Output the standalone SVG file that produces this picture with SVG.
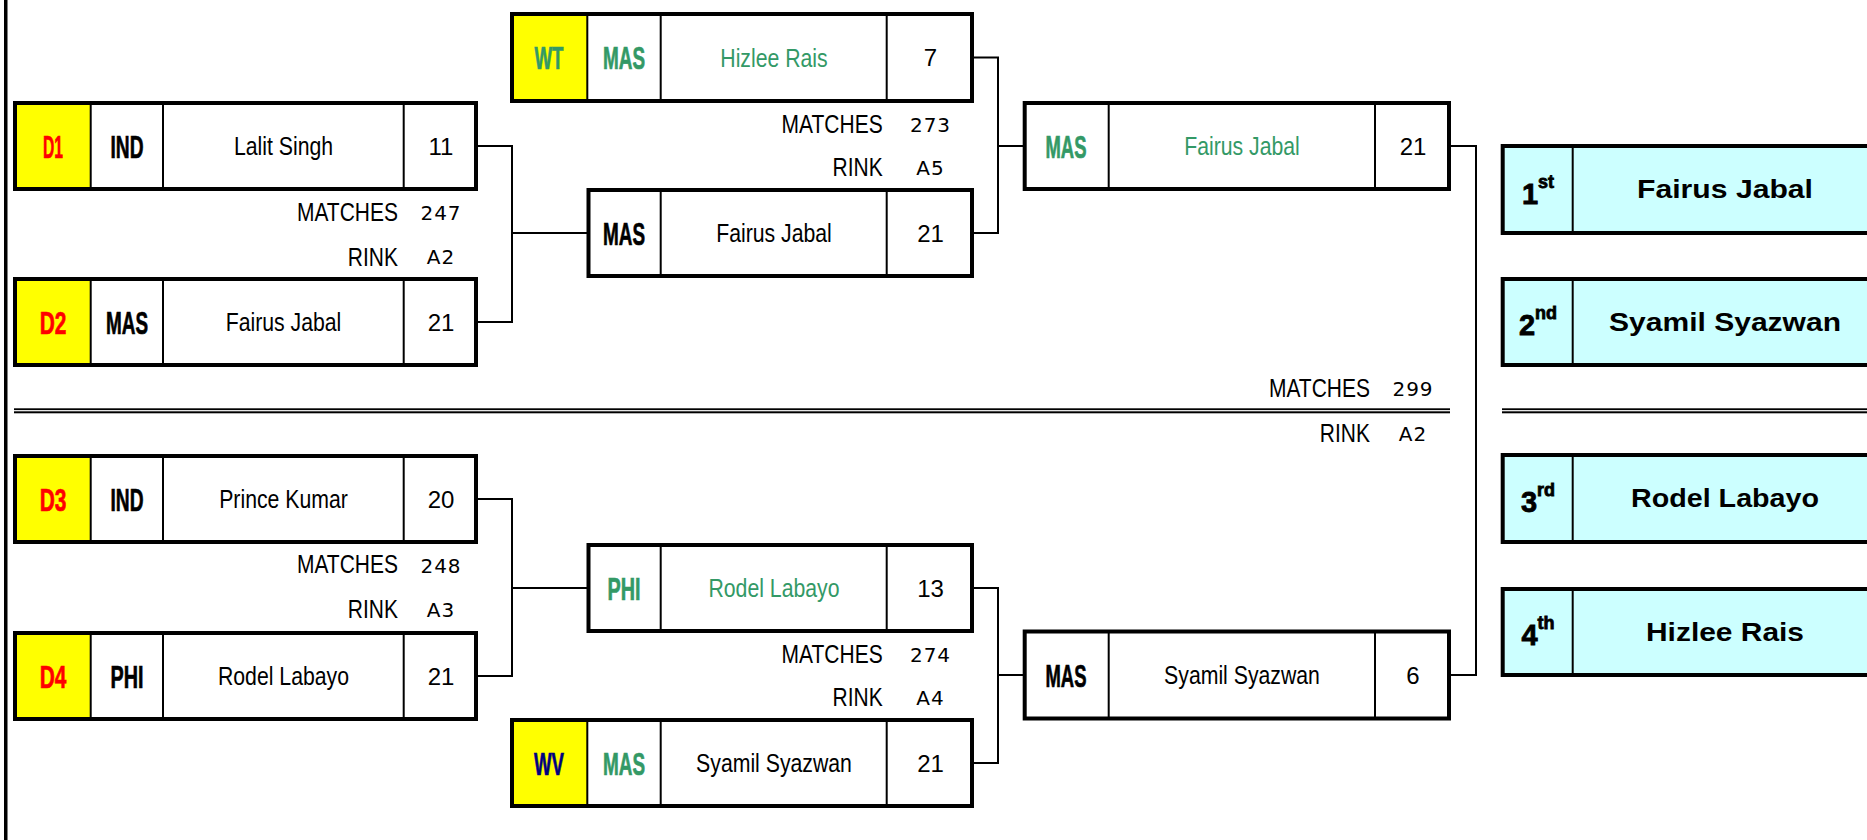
<svg xmlns="http://www.w3.org/2000/svg" width="1867" height="840" viewBox="0 0 1867 840">
<style>
.bx{fill:#fff;stroke:#000;stroke-width:4}
.fb{fill:#ccffff;stroke:#000;stroke-width:4}
.y{fill:#ffff00}
.dv{stroke:#000;stroke-width:2}
.cn{fill:none;stroke:#000;stroke-width:2}
text{font-family:"Liberation Sans",Arial,sans-serif;fill:#000}
.code{font-weight:bold;font-size:32px;text-anchor:middle;stroke:#000;stroke-width:0.7}
.nm{font-size:25px;text-anchor:middle}
.sc{font-size:24px;text-anchor:middle}
.lbl{font-size:25px;text-anchor:end}
.num{font-family:"DejaVu Sans",sans-serif;font-size:20px;text-anchor:middle;letter-spacing:1px}
.fn{font-weight:bold;font-size:25px;text-anchor:middle}
.ord{font-weight:bold;font-size:29px;text-anchor:middle;stroke:#000;stroke-width:0.8}
.g{fill:#339966}
.r{fill:#ff0000}
.nv{fill:#000080}
.code.g{stroke:#339966}
.code.r{stroke:#ff0000}
.code.nv{stroke:#000080}
</style>
<rect x="4" y="0" width="3.5" height="840" fill="#000"/>
<g id="divider">
<rect x="14" y="408.3" width="1436" height="1.8" fill="#000"/>
<rect x="14" y="411.3" width="1436" height="2" fill="#000"/>
<rect x="1502" y="408.3" width="365" height="1.8" fill="#000"/>
<rect x="1502" y="411.3" width="365" height="2" fill="#000"/>
</g>
<g id="connectors">
<path class="cn" d="M478,146 H512 V322 H478 M512,233 H588"/>
<path class="cn" d="M478,499 H512 V676 H478 M512,588 H588"/>
<path class="cn" d="M974,57.5 H998 V233 H974 M998,146 H1024"/>
<path class="cn" d="M974,588 H998 V763 H974 M998,675 H1024"/>
<path class="cn" d="M1451,146 H1476 V675 H1451"/>
</g>
<g id="d1">
<rect class="bx" x="15" y="103" width="461" height="86"/>
<rect class="y" x="17" y="105" width="73.7" height="82"/>
<path class="dv" d="M90.7,103 V189 M163,103 V189 M403.7,103 V189"/>
<text class="code r" x="53" y="157.5" textLength="20" lengthAdjust="spacingAndGlyphs">D1</text>
<text class="code" x="127" y="157.5" textLength="33" lengthAdjust="spacingAndGlyphs">IND</text>
<text class="nm" transform="translate(283.5 155) scale(0.85 1)">Lalit Singh</text>
<text class="sc" x="441" y="154.5">11</text>
</g>
<g id="d2">
<rect class="bx" x="15" y="279" width="461" height="86"/>
<rect class="y" x="17" y="281" width="73.7" height="82"/>
<path class="dv" d="M90.7,279 V365 M163,279 V365 M403.7,279 V365"/>
<text class="code r" x="53" y="333.5" textLength="26.7" lengthAdjust="spacingAndGlyphs">D2</text>
<text class="code" x="127" y="333.5" textLength="42" lengthAdjust="spacingAndGlyphs">MAS</text>
<text class="nm" transform="translate(283.5 331) scale(0.85 1)">Fairus Jabal</text>
<text class="sc" x="441" y="330.5">21</text>
</g>
<g id="m247">
<text class="lbl" transform="translate(398 221) scale(0.84 1)">MATCHES</text>
<text class="num" x="441" y="220">247</text>
<text class="lbl" transform="translate(398 265.5) scale(0.84 1)">RINK</text>
<text class="num" x="441" y="264">A2</text>
</g>
<g id="d3">
<rect class="bx" x="15" y="456" width="461" height="86"/>
<rect class="y" x="17" y="458" width="73.7" height="82"/>
<path class="dv" d="M90.7,456 V542 M163,456 V542 M403.7,456 V542"/>
<text class="code r" x="53" y="510.5" textLength="26.7" lengthAdjust="spacingAndGlyphs">D3</text>
<text class="code" x="127" y="510.5" textLength="33" lengthAdjust="spacingAndGlyphs">IND</text>
<text class="nm" transform="translate(283.5 508) scale(0.85 1)">Prince Kumar</text>
<text class="sc" x="441" y="507.5">20</text>
</g>
<g id="d4">
<rect class="bx" x="15" y="633" width="461" height="86"/>
<rect class="y" x="17" y="635" width="73.7" height="82"/>
<path class="dv" d="M90.7,633 V719 M163,633 V719 M403.7,633 V719"/>
<text class="code r" x="53" y="687.5" textLength="26.7" lengthAdjust="spacingAndGlyphs">D4</text>
<text class="code" x="127" y="687.5" textLength="33" lengthAdjust="spacingAndGlyphs">PHI</text>
<text class="nm" transform="translate(283.5 685) scale(0.85 1)">Rodel Labayo</text>
<text class="sc" x="441" y="684.5">21</text>
</g>
<g id="m248">
<text class="lbl" transform="translate(398 573.3) scale(0.84 1)">MATCHES</text>
<text class="num" x="441" y="572.5">248</text>
<text class="lbl" transform="translate(398 617.7) scale(0.84 1)">RINK</text>
<text class="num" x="441" y="616.5">A3</text>
</g>
<g id="wt">
<rect class="bx" x="512" y="14" width="460" height="87"/>
<rect class="y" x="514" y="16" width="73.3" height="83"/>
<path class="dv" d="M587.3,14 V101 M660.7,14 V101 M886.7,14 V101"/>
<text class="code g" x="549" y="69" textLength="29" lengthAdjust="spacingAndGlyphs">WT</text>
<text class="code g" x="624" y="69" textLength="42" lengthAdjust="spacingAndGlyphs">MAS</text>
<text class="nm g" transform="translate(774 66.5) scale(0.85 1)">Hizlee Rais</text>
<text class="sc" x="930.5" y="66">7</text>
</g>
<g id="m273">
<text class="lbl" transform="translate(882.7 132.7) scale(0.84 1)">MATCHES</text>
<text class="num" x="930.5" y="132">273</text>
<text class="lbl" transform="translate(882.7 176) scale(0.84 1)">RINK</text>
<text class="num" x="930.5" y="175">A5</text>
</g>
<g id="r2a">
<rect class="bx" x="588.5" y="190" width="383.5" height="86"/>
<path class="dv" d="M660.7,190 V276 M886.7,190 V276"/>
<text class="code" x="624" y="244.5" textLength="42" lengthAdjust="spacingAndGlyphs">MAS</text>
<text class="nm" transform="translate(774 242) scale(0.85 1)">Fairus Jabal</text>
<text class="sc" x="930.5" y="241.5">21</text>
</g>
<g id="r2b">
<rect class="bx" x="588.5" y="545" width="383.5" height="86"/>
<path class="dv" d="M660.7,545 V631 M886.7,545 V631"/>
<text class="code g" x="624" y="599.5" textLength="33" lengthAdjust="spacingAndGlyphs">PHI</text>
<text class="nm g" transform="translate(774 597) scale(0.85 1)">Rodel Labayo</text>
<text class="sc" x="930.5" y="596.5">13</text>
</g>
<g id="m274">
<text class="lbl" transform="translate(882.7 662.7) scale(0.84 1)">MATCHES</text>
<text class="num" x="930.5" y="662">274</text>
<text class="lbl" transform="translate(882.7 706) scale(0.84 1)">RINK</text>
<text class="num" x="930.5" y="705">A4</text>
</g>
<g id="wv">
<rect class="bx" x="512" y="720" width="460" height="86"/>
<rect class="y" x="514" y="722" width="73.3" height="82"/>
<path class="dv" d="M587.3,720 V806 M660.7,720 V806 M886.7,720 V806"/>
<text class="code nv" x="549" y="774.5" textLength="30" lengthAdjust="spacingAndGlyphs">WV</text>
<text class="code g" x="624" y="774.5" textLength="42" lengthAdjust="spacingAndGlyphs">MAS</text>
<text class="nm" transform="translate(774 772) scale(0.85 1)">Syamil Syazwan</text>
<text class="sc" x="930.5" y="771.5">21</text>
</g>
<g id="r3a">
<rect class="bx" x="1024.7" y="103" width="424.3" height="86"/>
<path class="dv" d="M1108.7,103 V189 M1375,103 V189"/>
<text class="code g" x="1066" y="157.5" textLength="41" lengthAdjust="spacingAndGlyphs">MAS</text>
<text class="nm g" transform="translate(1242 155) scale(0.85 1)">Fairus Jabal</text>
<text class="sc" x="1413" y="154.5">21</text>
</g>
<g id="r3b">
<rect class="bx" x="1024.7" y="631.5" width="424.3" height="87"/>
<path class="dv" d="M1108.7,631.5 V718.5 M1375,631.5 V718.5"/>
<text class="code" x="1066" y="686.5" textLength="41" lengthAdjust="spacingAndGlyphs">MAS</text>
<text class="nm" transform="translate(1242 684) scale(0.85 1)">Syamil Syazwan</text>
<text class="sc" x="1413" y="683.5">6</text>
</g>
<g id="m299">
<text class="lbl" transform="translate(1370 396.7) scale(0.84 1)">MATCHES</text>
<text class="num" x="1413" y="396">299</text>
<text class="lbl" transform="translate(1370 441.7) scale(0.84 1)">RINK</text>
<text class="num" x="1413" y="440.5">A2</text>
</g>
<g id="p1">
<rect class="fb" x="1502.7" y="146" width="400" height="87"/>
<path class="dv" d="M1572.7,146 V233"/>
<text class="ord" x="1538" y="204">1<tspan font-size="18" dy="-16">st</tspan></text>
<text class="fn" x="1725" y="198" textLength="176" lengthAdjust="spacingAndGlyphs">Fairus Jabal</text>
</g>
<g id="p2">
<rect class="fb" x="1502.7" y="279" width="400" height="86"/>
<path class="dv" d="M1572.7,279 V365"/>
<text class="ord" x="1538" y="335">2<tspan font-size="18" dy="-16">nd</tspan></text>
<text class="fn" x="1725" y="331" textLength="232" lengthAdjust="spacingAndGlyphs">Syamil Syazwan</text>
</g>
<g id="p3">
<rect class="fb" x="1502.7" y="455" width="400" height="87"/>
<path class="dv" d="M1572.7,455 V542"/>
<text class="ord" x="1538" y="512">3<tspan font-size="18" dy="-16">rd</tspan></text>
<text class="fn" x="1725" y="507" textLength="188" lengthAdjust="spacingAndGlyphs">Rodel Labayo</text>
</g>
<g id="p4">
<rect class="fb" x="1502.7" y="589" width="400" height="86"/>
<path class="dv" d="M1572.7,589 V675"/>
<text class="ord" x="1538" y="645">4<tspan font-size="18" dy="-16">th</tspan></text>
<text class="fn" x="1725" y="641" textLength="158" lengthAdjust="spacingAndGlyphs">Hizlee Rais</text>
</g>
</svg>
